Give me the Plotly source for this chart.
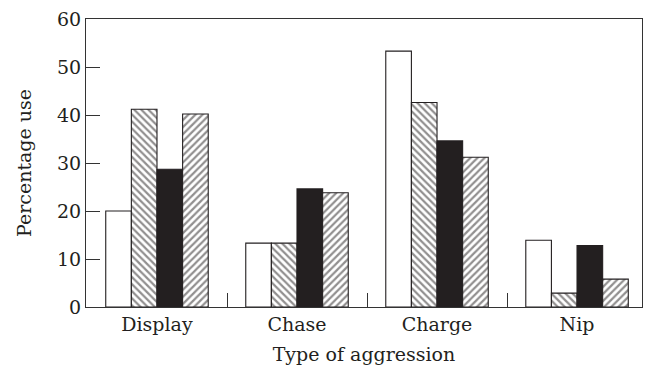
import plotly.graph_objects as go

categories = ["Display", "Chase", "Charge", "Nip"]
series_names = ["Group 1", "Group 2", "Group 3", "Group 4"]
values_open = [20.0, 13.3, 53.3, 13.9]
values_back = [41.2, 13.3, 42.6, 2.9]
values_solid = [28.7, 24.6, 34.6, 12.8]
values_fwd = [40.2, 23.8, 31.2, 5.8]
y_ticks = [0, 10, 20, 30, 40, 50, 60]

INK = "#231f20"
FONT = "DejaVu Serif"
FS = 19

fig = go.Figure()
styles = [
    (values_open, dict(color="white", line=dict(color=INK, width=1.1))),
    (values_back, dict(color="white", line=dict(color=INK, width=1.1),
                       pattern=dict(shape="\\", fgcolor=INK, bgcolor="white", size=5, solidity=0.45))),
    (values_solid, dict(color=INK, line=dict(color=INK, width=1.1))),
    (values_fwd, dict(color="white", line=dict(color=INK, width=1.1),
                      pattern=dict(shape="/", fgcolor=INK, bgcolor="white", size=5, solidity=0.45))),
]
for name, (vals, marker) in zip(series_names, styles):
    fig.add_trace(go.Bar(x=categories, y=vals, name=name, marker=marker, showlegend=False))

fig.update_layout(
    width=646, height=366,
    margin=dict(l=86, r=4, t=19, b=59),
    paper_bgcolor="white", plot_bgcolor="white",
    barmode="group", bargap=0.268, bargroupgap=0,
    font=dict(family=FONT, size=FS, color=INK),
    xaxis=dict(
        type="category", categoryarray=categories, range=[-0.507, 3.464],
        showline=True, linecolor="#333", linewidth=1, mirror=True,
        ticks="inside", tickson="boundaries", ticklen=14, tickcolor="#333", tickwidth=1,
        showgrid=False, zeroline=False, automargin=False,
        title=dict(text="Type of aggression", standoff=13, font=dict(size=FS)),
        tickfont=dict(size=FS),
    ),
    yaxis=dict(
        range=[0, 60], tickvals=y_ticks, ticktext=[str(v) for v in y_ticks],
        showline=True, linecolor="#333", linewidth=1, mirror=True,
        ticks="inside", ticklen=14, tickcolor="#333", tickwidth=1,
        showgrid=False, zeroline=False, automargin=False,
        title=dict(text="Percentage use", standoff=20, font=dict(size=FS)),
        tickfont=dict(size=FS),
    ),
)

fig.write_html(
    "out.html",
    config={"displayModeBar": False},
    post_script="document.body.style.margin='0';document.body.style.overflow='hidden';",
)
